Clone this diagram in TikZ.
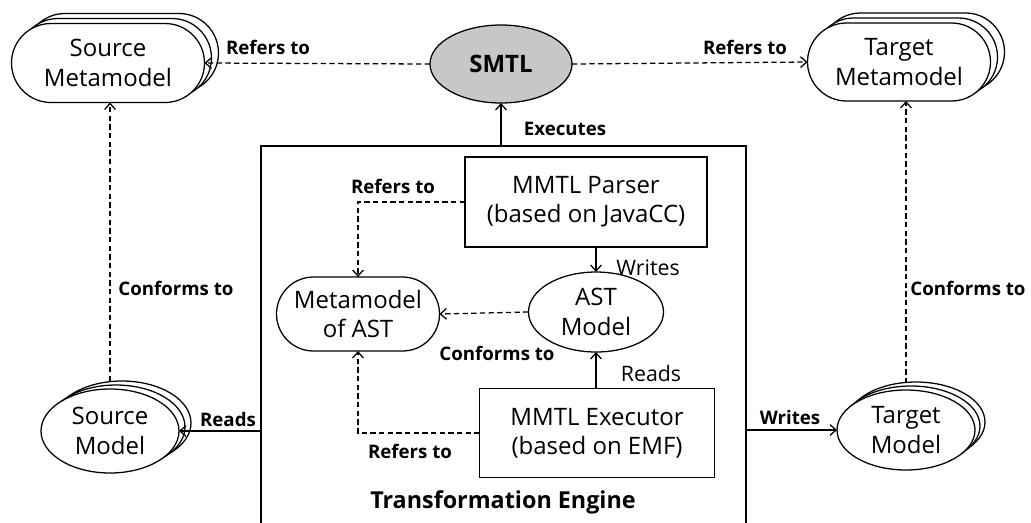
\documentclass[tikz,border=0pt]{standalone}
\usepackage{fontspec}
\setmainfont{Open Sans}
\usetikzlibrary{shapes.geometric,shapes.misc,shadows,arrows.meta}

\begin{document}
\begin{tikzpicture}[x=0.75pt,y=-0.75pt,
  every node/.style={inner sep=0pt, outer sep=0pt},
  lw/.style={line width=0.95pt},
  conn/.style={lw, -{Straight Barb[length=4.5pt,width=8pt]}},
  dconn/.style={conn, dash pattern=on 4pt off 2.5pt},
  lbl/.style={font=\fontsize{14}{16}\selectfont\bfseries},
  rlbl/.style={font=\fontsize{16}{18}\selectfont},
  txt/.style={font=\fontsize{18}{22}\selectfont, align=center, lw, draw, fill=white},
  stadium/.style={txt, rounded rectangle},
  oval/.style={txt, ellipse},
  box/.style={txt, rectangle},
  stackshift/.style 2 args={general shadow={shadow xshift=#1, shadow yshift=#2, draw, fill=white, lw}},
]
\useasboundingbox (0,0) rectangle (1031,522);
\clip (0,0) rectangle (1031,522);

% transformation engine frame (open towards the bottom)
\node[draw, lw, minimum width=485*0.75pt, minimum height=454*0.75pt] (te) at (503.5,373) {};
\node[font=\fontsize{17.5}{20}\selectfont\bfseries] (tetitle) at (503,502) {Transformation Engine};

% metamodels and models
\node[stadium, minimum width=193*0.75pt, minimum height=79*0.75pt,
      stackshift={10.5pt}{7.5pt}, stackshift={5.25pt}{3.75pt}] (sme) at (108,63) {Source\\Metamodel};
\node[stadium, minimum width=183*0.75pt, minimum height=78*0.75pt,
      stackshift={10.5pt}{7.5pt}, stackshift={5.25pt}{3.75pt}] (tme) at (899,62) {Target\\Metamodel};
\node[oval, minimum width=142*0.75pt, minimum height=78*0.75pt, fill=black!22,
      font=\fontsize{18}{22}\selectfont\bfseries] (smtl) at (501,64) {SMTL};

\node[oval, minimum width=138*0.75pt, minimum height=84*0.75pt,
      stackshift={9pt}{6pt}, stackshift={4.5pt}{3pt}] (srcm) at (110,431) {Source\\Model};
\node[oval, minimum width=138*0.75pt, minimum height=80*0.75pt,
      stackshift={7.5pt}{6pt}, stackshift={3.75pt}{3pt}] (tgtm) at (906,430) {Target\\Model};

% engine internals
\node[box, minimum width=242*0.75pt, minimum height=90*0.75pt] (parser) at (586,202) {MMTL Parser\\(based on JavaCC)};
\node[box, minimum width=235*0.75pt, minimum height=89*0.75pt] (exec) at (597,433) {MMTL Executor\\(based on EMF)};
\node[stadium, minimum width=163*0.75pt, minimum height=74*0.75pt] (mast) at (358,314) {Metamodel\\of AST};
\node[oval, minimum width=135*0.75pt, minimum height=80*0.75pt] (ast) at (596,312) {AST\\Model};

% connectors
\draw[dconn] (smtl.west) -- (sme.east);
\draw[dconn] (smtl.east) -- (tme.west);
\draw[conn] (smtl.south |- te.north) -- (smtl.south);
\draw[dconn] ([yshift=6pt]srcm.north) -- (srcm.north |- sme.south);
\draw[dconn] ([yshift=5pt]tgtm.north) -- (tgtm.north |- tme.south);
\draw[conn] (te.west |- srcm.east) -- (srcm.east);
\draw[conn] (te.east |- tgtm.west) -- (tgtm.west);
\draw[dconn] (parser.west) -| (mast.north);
\draw[conn] (ast.north |- parser.south) -- (ast.north);
\draw[dconn] (ast.west) -- (mast.east);
\draw[conn] (exec.north -| ast.south) -- (ast.south);
\draw[dconn] (exec.west) -| (mast.south);

% connector labels
\node[lbl] (l1) at (268,47) {Refers to};
\node[lbl] (l2) at (745,47) {Refers to};
\node[lbl] (l3) at (565,129) {Executes};
\node[lbl] (l4) at (176,288) {Conforms to};
\node[lbl] (l5) at (968,288) {Conforms to};
\node[lbl] (l6) at (393,186) {Refers to};
\node[rlbl] (l7) at (648,268) {Writes};
\node[lbl] (l8) at (497,353) {Conforms to};
\node[rlbl] (l9) at (651,373) {Reads};
\node[lbl] (l10) at (410,451) {Refers to};
\node[lbl] (l11) at (228,419) {Reads};
\node[lbl] (l12) at (790,417) {Writes};
\end{tikzpicture}
\end{document}
